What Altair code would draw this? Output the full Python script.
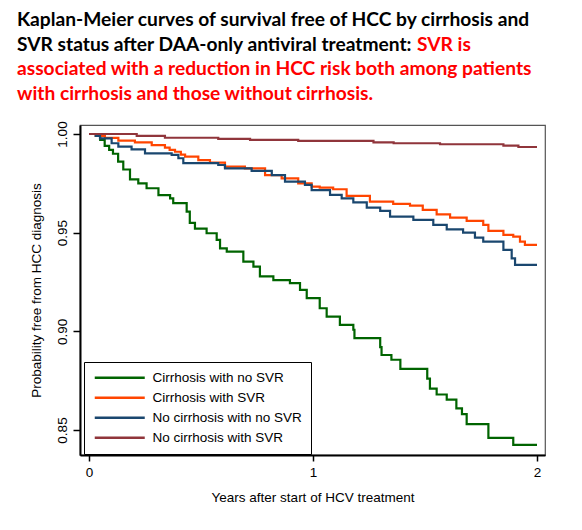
import altair as alt
import pandas as pd

SERIES = ["Cirrhosis with no SVR", "Cirrhosis with SVR",
          "No cirrhosis with no SVR", "No cirrhosis with SVR"]
COLORS = ["#006400", "#ff4500", "#1a476f", "#90353b"]

t_cirr_nosvr = [0, 0.05, 0.07, 0.09, 0.107, 0.13, 0.153, 0.183, 0.22, 0.257, 0.31,
                0.362, 0.376, 0.436, 0.45, 0.473, 0.525, 0.57, 0.585, 0.615, 0.689,
                0.734, 0.763, 0.823, 0.897, 0.942, 0.972, 1.03, 1.061, 1.12, 1.18,
                1.185, 1.30, 1.306, 1.35, 1.39, 1.51, 1.522, 1.552, 1.597, 1.64,
                1.665, 1.686, 1.783, 1.894, 2.0]
s_cirr_nosvr = [1.0, 0.997, 0.994, 0.992, 0.990, 0.986, 0.982, 0.977, 0.975, 0.9725,
                0.969, 0.9674, 0.965, 0.9607, 0.955, 0.952, 0.9497, 0.9463, 0.942,
                0.9404, 0.9353, 0.9328, 0.9278, 0.926, 0.9244, 0.921, 0.9168, 0.9117,
                0.9075, 0.9033, 0.9008, 0.8966, 0.892, 0.888, 0.8856, 0.881, 0.876,
                0.871, 0.868, 0.8654, 0.861, 0.858, 0.853, 0.846, 0.8425, 0.8425]

t_cirr_svr = [0, 0.03, 0.071, 0.131, 0.205, 0.28, 0.339, 0.36, 0.384, 0.41, 0.429,
              0.488, 0.54, 0.607, 0.696, 0.786, 0.86, 0.934, 0.994, 1.03, 1.09, 1.15,
              1.254, 1.358, 1.433, 1.49, 1.552, 1.612, 1.686, 1.76, 1.783, 1.85,
              1.894, 1.924, 1.946, 2.0]
s_cirr_svr = [1.0, 0.999, 0.998, 0.9966, 0.9958, 0.9944, 0.9931, 0.992, 0.991,
              0.9895, 0.9885, 0.9868, 0.9855, 0.9835, 0.9826, 0.9792, 0.9775, 0.975,
              0.9733, 0.9728, 0.972, 0.9686, 0.9657, 0.9646, 0.9637, 0.9615, 0.9593,
              0.9576, 0.956, 0.9539, 0.9509, 0.9489, 0.948, 0.9455, 0.9438, 0.9438]

t_nocirr_nosvr = [0, 0.03, 0.049, 0.101, 0.131, 0.19, 0.25, 0.369, 0.399, 0.421,
                  0.577, 0.607, 0.726, 0.816, 0.875, 0.964, 0.994, 1.076, 1.128,
                  1.18, 1.24, 1.30, 1.344, 1.448, 1.537, 1.597, 1.67, 1.723, 1.76,
                  1.85, 1.887, 1.902, 2.0]
s_nocirr_nosvr = [1.0, 0.999, 0.9978, 0.9953, 0.9936, 0.9922, 0.9902, 0.9894, 0.9877,
                  0.9852, 0.9843, 0.9826, 0.9813, 0.9792, 0.9759, 0.9742, 0.9716,
                  0.9691, 0.9674, 0.9654, 0.9627, 0.961, 0.9581, 0.9565, 0.9539,
                  0.9517, 0.95, 0.9475, 0.9455, 0.9413, 0.937, 0.9337, 0.9337]

t_nocirr_svr = [0, 0.213, 0.339, 0.577, 0.719, 0.934, 1.27, 1.36, 1.567, 1.85, 1.917, 2.0]
s_nocirr_svr = [1.0, 0.999, 0.9981, 0.9975, 0.997, 0.9965, 0.9958, 0.9953, 0.9948,
                0.9941, 0.9934, 0.9934]

Y_TICKS = [0.85, 0.90, 0.95, 1.00]
X_TICKS = [0, 1, 2]

TITLE_BLACK = ["Kaplan-Meier curves of survival free of HCC by cirrhosis and",
               "SVR status after DAA-only antiviral treatment:"]
TITLE_RED_TAIL = "SVR is"
TITLE_RED = ["associated with a reduction in HCC risk both among patients",
             "with cirrhosis and those without cirrhosis."]

rows = []
for name, ts, ss in zip(SERIES,
                        [t_cirr_nosvr, t_cirr_svr, t_nocirr_nosvr, t_nocirr_svr],
                        [s_cirr_nosvr, s_cirr_svr, s_nocirr_nosvr, s_nocirr_svr]):
    for t, s in zip(ts, ss):
        rows.append({"group": name, "t": t, "s": s})
df = pd.DataFrame(rows)

W, H = 465, 330
AX_FONT = "Liberation Sans"
TI_FONT = "Lato"
FS = 13.5

curves = alt.Chart(df).mark_line(interpolate="step-after", strokeWidth=2.2, clip=True).encode(
    x=alt.X("t:Q", scale=alt.Scale(domain=[-0.0402, 2.0357], nice=False, zero=False),
            axis=alt.Axis(values=X_TICKS, title="Years after start of HCV treatment",
                          labelExpr="format(datum.value, 'd')",
                          tickSize=6, labelPadding=4, titlePadding=12, labelOverlap=False,
                          labelFlush=False, labelBound=False, titleFontWeight="normal",
                          zindex=2)),
    y=alt.Y("s:Q", scale=alt.Scale(domain=[0.83733, 1.00456], nice=False, zero=False),
            axis=alt.Axis(values=Y_TICKS, format=".2f", labelAngle=270, labelAlign="center",
                          labelBaseline="bottom", tickSize=7, labelPadding=4,
                          labelOverlap=False,
                          title="Probability free from HCC diagnosis", titlePadding=12,
                          titleFontWeight="normal")),
    color=alt.Color("group:N", scale=alt.Scale(domain=SERIES, range=COLORS),
                    legend=alt.Legend(title=None, orient="none", legendX=4, legendY=237,
                                      symbolType="M-1,0H9", symbolSize=100,
                                      symbolStrokeWidth=2.5, labelOffset=46,
                                      labelFontSize=FS, labelFont=AX_FONT,
                                      labelColor="black", labelLimit=400, padding=9,
                                      strokeColor="black", fillColor="white",
                                      rowPadding=5)),
    detail="group:N",
)

def txt(s, x, y, color):
    return alt.Chart(pd.DataFrame({"v": [s]})).mark_text(
        align="left", baseline="alphabetic", font=TI_FONT, fontWeight="bold",
        fontSize=19.2, color=color).encode(text="v:N", x=alt.value(x), y=alt.value(y))

texts = [
    txt(TITLE_BLACK[0], -63, -99, "black"),
    txt(TITLE_BLACK[1], -63, -74.5, "black"),
    txt(TITLE_RED_TAIL, 337, -74.5, "#ff0000"),
    txt(TITLE_RED[0], -63, -50, "#ff0000"),
    txt(TITLE_RED[1], -63, -25.5, "#ff0000"),
]

chart = alt.layer(curves, *texts).properties(
    width=W, height=H,
    autosize=alt.AutoSizeParams(type="none"),
    padding={"left": 72, "top": 117, "right": 20, "bottom": 55},
).configure(background="white").configure_view(
    stroke="#555555", strokeWidth=1.2
).configure_axis(
    domainColor="black", domainWidth=2, tickColor="black", tickWidth=1.5,
    labelFont=AX_FONT, labelFontSize=FS, labelColor="black",
    titleFont=AX_FONT, titleFontSize=FS, titleColor="black", titleFontWeight="normal",
    grid=False,
)

chart.save("out.html", embed_options={"renderer": "svg", "actions": False})
